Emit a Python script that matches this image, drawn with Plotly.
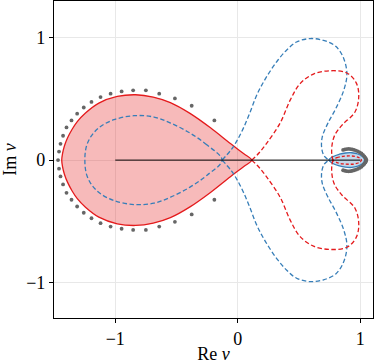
import plotly.graph_objects as go

# ---------------- data (upper halves; mirrored about Im v = 0) -------------
# red stable lobe (solid, filled): from the crossing point to the leftmost point
red_lobe_x = [0.114, 0.050, -0.060, -0.220, -0.390, -0.550, -0.690, -0.834, -0.984, -1.134, -1.243, -1.310, -1.352, -1.390, -1.415, -1.430, -1.437]
red_lobe_y = [0.0, 0.052, 0.135, 0.262, 0.382, 0.470, 0.515, 0.534, 0.520, 0.466, 0.385, 0.315, 0.252, 0.180, 0.115, 0.055, 0.0]

# red dashed arc (upper): from crossing at 0.114 to self-crossing near 1
red_arc_x = [0.114, 0.175, 0.237, 0.346, 0.428, 0.509, 0.618, 0.755, 0.891, 0.965, 0.988, 0.958, 0.850, 0.790, 0.768, 0.768, 0.776]
red_arc_y = [0.0, 0.060, 0.139, 0.303, 0.490, 0.625, 0.703, 0.730, 0.712, 0.635, 0.530, 0.395, 0.285, 0.200, 0.111, 0.045, 0.0]

# red small loop (upper)
red_loop_x = [0.776, 0.810, 0.860, 0.910, 0.960, 0.995, 1.010]
red_loop_y = [0.0, 0.020, 0.031, 0.034, 0.030, 0.017, 0.0]

# blue dashed inner lobe (upper): from crossing to leftmost point
blue_lobe_x = [-0.128, -0.253, -0.390, -0.548, -0.684, -0.848, -1.011, -1.120, -1.190, -1.230, -1.245, -1.248]
blue_lobe_y = [0.0, 0.125, 0.221, 0.303, 0.352, 0.363, 0.330, 0.275, 0.205, 0.130, 0.060, 0.0]

# blue dashed arc (upper)
blue_arc_x = [-0.128, -0.050, 0.000, 0.050, 0.100, 0.150, 0.200, 0.260, 0.330, 0.400, 0.480, 0.591, 0.700, 0.800, 0.865, 0.891, 0.865, 0.800, 0.735, 0.690, 0.685, 0.705, 0.744]
blue_arc_y = [0.0, 0.090, 0.170, 0.270, 0.390, 0.520, 0.620, 0.720, 0.820, 0.900, 0.965, 0.993, 0.978, 0.930, 0.830, 0.700, 0.570, 0.420, 0.300, 0.190, 0.100, 0.035, 0.0]

# blue small stable loop (solid, filled), upper
blue_loop_x = [0.744, 0.780, 0.830, 0.880, 0.930, 0.980, 1.015, 1.032, 1.035]
blue_loop_y = [0.0, 0.030, 0.048, 0.058, 0.060, 0.050, 0.032, 0.012, 0.0]

# gray dots (upper)
dots_left_x = [-1.467, -1.459, -1.447, -1.426, -1.398, -1.357, -1.311, -1.257, -1.194, -1.120, -1.038, -0.948, -0.854, -0.750, -0.641, -0.513, -0.376, -0.191]
dots_left_y = [0.0, 0.070, 0.133, 0.199, 0.267, 0.324, 0.379, 0.430, 0.475, 0.515, 0.543, 0.561, 0.570, 0.570, 0.543, 0.504, 0.444, 0.324]
dots_right_x = [0.860, 0.875, 0.890, 0.905, 0.920, 0.935, 0.950, 0.965, 0.980, 0.995, 1.010, 1.022, 1.033, 1.042, 1.048, 1.050]
dots_right_y = [0.083, 0.087, 0.090, 0.092, 0.090, 0.087, 0.083, 0.078, 0.072, 0.064, 0.055, 0.043, 0.031, 0.019, 0.008, 0.0]

# real segment
seg_x = [-1, 1]
seg_y = [0, 0]

tick_vals = [-1, 0, 1]

RED = "#e41a1c"
BLUE = "#377eb8"
DASH = "4.5px,2.5px"
FONT = "Liberation Serif, Times New Roman, serif"


def mirror_closed(xs, ys):
    """upper half -> full closed path (upper then lower reversed)."""
    x = list(xs) + list(xs[::-1][1:])
    y = list(ys) + [-v for v in ys[::-1][1:]]
    return x, y


fig = go.Figure()

# red filled lobe
rx, ry = mirror_closed(red_lobe_x, red_lobe_y)
ry[-1] = -1e-6
fig.add_trace(go.Scatter(x=rx, y=ry, mode="lines", fill="toself",
                         fillcolor="rgba(228,26,28,0.3)",
                         line=dict(color=RED, width=1.3, shape="spline", smoothing=1)))

# blue small filled loop
bx, by = mirror_closed(blue_loop_x, blue_loop_y)
by[-1] = -1e-6
fig.add_trace(go.Scatter(x=bx, y=by, mode="lines", fill="toself",
                         fillcolor="rgba(55,126,184,0.3)",
                         line=dict(color=BLUE, width=1.3, shape="spline", smoothing=1)))

# blue dashed: inner lobe
blx, bly = mirror_closed(blue_lobe_x, blue_lobe_y)
bly[-1] = -1e-6
fig.add_trace(go.Scatter(x=blx, y=bly, mode="lines",
                         line=dict(color=BLUE, width=1.3, dash=DASH, shape="spline", smoothing=1)))
# blue dashed: outer arc (upper and lower)
for s in (1, -1):
    fig.add_trace(go.Scatter(x=blue_arc_x, y=[s * v for v in blue_arc_y], mode="lines",
                             line=dict(color=BLUE, width=1.3, dash=DASH, shape="spline", smoothing=1)))

# red dashed arcs
for s in (1, -1):
    fig.add_trace(go.Scatter(x=red_arc_x, y=[s * v for v in red_arc_y], mode="lines",
                             line=dict(color=RED, width=1.3, dash=DASH, shape="spline", smoothing=1)))
# red dashed small loop
rlx, rly = mirror_closed(red_loop_x, red_loop_y)
rly[-1] = -1e-6
fig.add_trace(go.Scatter(x=rlx, y=rly, mode="lines",
                         line=dict(color=RED, width=1.3, dash="3px,2px", shape="spline", smoothing=1)))

# black real segment
fig.add_trace(go.Scatter(x=seg_x, y=seg_y, mode="lines", line=dict(color="black", width=1)))

# gray dots
dx = dots_left_x + dots_left_x[1:] + dots_right_x + dots_right_x[:-1]
dy = dots_left_y + [-v for v in dots_left_y[1:]] + dots_right_y + [-v for v in dots_right_y[:-1]]
fig.add_trace(go.Scatter(x=dx, y=dy, mode="markers",
                         marker=dict(color="#666666", size=3.8, line=dict(width=0))))

axis_common = dict(
    tickvals=tick_vals, ticks="outside", ticklen=4, tickwidth=1, tickcolor="black",
    showline=True, mirror=True, linecolor="black", linewidth=1.2,
    showgrid=True, gridcolor="#e8e8e8", gridwidth=1, zeroline=False,
    automargin=False,
    tickfont=dict(family=FONT, size=18, color="black"),
)

fig.update_layout(
    width=374, height=364,
    margin=dict(l=54, r=1, t=1, b=46, autoexpand=False),
    paper_bgcolor="white", plot_bgcolor="white",
    showlegend=False,
    font=dict(family=FONT, size=18, color="black"),
    xaxis=dict(range=[-1.5, 1.104], title=dict(text="Re <i>v</i>", standoff=3,
                                               font=dict(family=FONT, size=18)),
               **axis_common),
    yaxis=dict(range=[-1.29, 1.30], title=dict(text="Im <i>v</i>", standoff=6,
                                               font=dict(family=FONT, size=18)),
               **axis_common),
)

fig.write_html("out.html", config={"displayModeBar": False},
               post_script="document.body.style.margin='0';document.body.style.padding='0';")
